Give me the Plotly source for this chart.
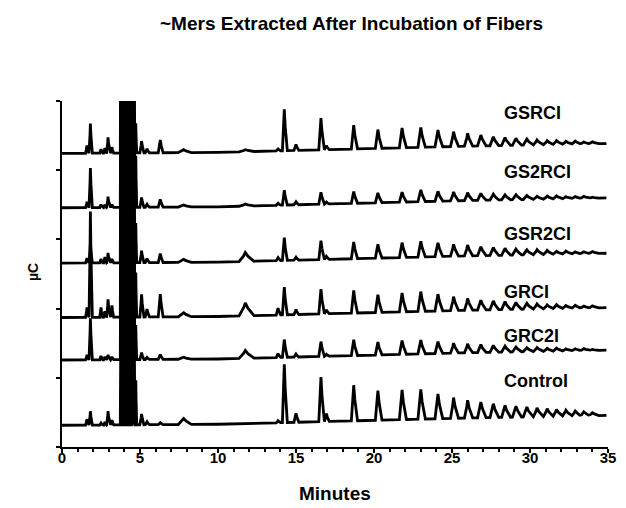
import numpy as np
import plotly.graph_objects as go

# ---------------- data ----------------
TRACE_NAMES = ["GSRCI", "GS2RCI", "GSR2CI", "GRCI", "GRC2I", "Control"]
# baseline level of each stacked trace (µC, arbitrary units)
OFFSETS = [297, 242, 186, 131, 88, 22]
# slow baseline drift common to all traces
DRIFT_T = [0, 10, 15, 25, 35]
DRIFT_V = [0, 1, 3, 7, 10]

# early / minor peaks: retention time (min) and peak half-width (min)
EARLY_T = [1.6, 1.82, 2.5, 2.75, 2.95, 3.2, 5.1, 5.45, 6.3, 7.8, 11.75, 13.85, 15.0, 16.95]
EARLY_W = [0.09, 0.09, 0.08, 0.08, 0.09, 0.08, 0.11, 0.11, 0.13, 0.35, 0.4, 0.12, 0.13, 0.13]
EARLY_H = {
    "GSRCI":   [8, 30, 4, 5, 16, 6, 12, 4, 13, 3, 2, 2, 6, 4],
    "GS2RCI":  [6, 40, 3, 3, 11, 3, 10, 3, 8, 2, 2, 2, 3, 2],
    "GSR2CI":  [5, 20, 4, 6, 10, 4, 12, 4, 9, 3, 9, 3, 3, 3],
    "GRCI":    [10, 107, 10, 6, 18, 12, 23, 8, 23, 4, 13, 7, 5, 4],
    "GRC2I":   [5, 42, 4, 3, 5, 3, 7, 2, 5, 2, 8, 4, 3, 2],
    "Control": [6, 14, 2, 3, 14, 5, 11, 3, 2, 6, 0, 2, 9, 8],
}

# solvent-front cluster of very tall peaks
CLUSTER_T = [3.78, 3.9, 4.02, 4.14, 4.26, 4.38, 4.5, 4.61, 4.73]
CLUSTER_H = {
    "GSRCI":   [150, 200, 260, 240, 280, 230, 200, 150, 30],
    "GS2RCI":  [180, 250, 300, 260, 320, 280, 230, 170, 52],
    "GSR2CI":  [170, 240, 290, 270, 310, 290, 240, 160, 40],
    "GRCI":    [160, 260, 300, 280, 330, 300, 250, 180, 45],
    "GRC2I":   [150, 230, 280, 300, 310, 290, 240, 170, 35],
    "Control": [120, 200, 260, 310, 280, 300, 250, 200, 45],
}

# oligomer (~mer) peak series
OLIGO_T = [14.25, 16.6, 18.7, 20.25, 21.8, 23.0, 24.1, 25.1, 26.0, 26.85, 27.65,
           28.4, 29.1, 29.8, 30.45, 31.1, 31.7, 32.3, 32.9, 33.45, 34.0]
OLIGO_H = {
    "GSRCI":   [42, 32, 24, 19, 20, 20, 17, 15, 13, 11, 9, 8, 7, 6, 5, 4, 4, 3, 3, 2, 2],
    "GS2RCI":  [15, 12, 12, 10, 10, 12, 10, 9, 8, 7, 6, 5, 5, 4, 3, 3, 3, 2, 2, 2, 1],
    "GSR2CI":  [23, 19, 17, 14, 15, 16, 14, 12, 11, 9, 8, 7, 6, 5, 5, 4, 3, 3, 2, 2, 2],
    "GRCI":    [28, 25, 23, 18, 19, 20, 17, 14, 12, 10, 9, 8, 7, 6, 5, 4, 4, 3, 3, 2, 2],
    "GRC2I":   [18, 15, 16, 13, 14, 14, 12, 10, 9, 8, 7, 6, 5, 4, 4, 3, 3, 2, 2, 2, 1],
    "Control": [59, 45, 36, 30, 30, 30, 25, 21, 18, 16, 14, 12, 11, 10, 9, 8, 7, 6, 5, 4, 3],
}

X_TICKS = [0, 5, 10, 15, 20, 25, 30, 35]
T_END = 34.9

# ---------------- drawing helpers ----------------
def peak_list(name):
    peaks = []
    for t, w, h in zip(EARLY_T, EARLY_W, EARLY_H[name]):
        if h > 0:
            peaks.append((t, h, w, w * 1.4))
    for t, h in zip(CLUSTER_T, CLUSTER_H[name]):
        peaks.append((t, h, 0.045, 0.06))
    for t, h in zip(OLIGO_T, OLIGO_H[name]):
        wl = 0.12 + 0.007 * (t - 14)
        peaks.append((t, h, wl, wl * 1.6))
    return peaks


def build_trace(name, offset):
    peaks = peak_list(name)
    ts = {0.0, T_END}
    ts.update(DRIFT_T)
    for t, h, wl, wr in peaks:
        ts.update([t - wl, t - 0.25 * wl, t, t + 0.3 * wr, t + wr])
    ts = np.array(sorted(v for v in ts if 0 <= v <= T_END))
    y = offset + np.interp(ts, DRIFT_T, DRIFT_V)
    for t, h, wl, wr in peaks:
        left = np.clip((ts - (t - wl)) / wl, 0, 1)
        right = np.clip(((t + wr) - ts) / wr, 0, 1)
        y = y + h * np.minimum(left, right) ** 1.5
    return ts, y


fig = go.Figure()
for name, off in zip(TRACE_NAMES, OFFSETS):
    xs, ys = build_trace(name, off)
    fig.add_trace(go.Scatter(x=xs, y=ys, mode="lines", name=name,
                             line=dict(color="black", width=2.8),
                             showlegend=False, hoverinfo="skip"))

LABEL_X = 28.23
LABEL_Y = [338, 278.5, 215.5, 157, 112, 67]
for name, ly in zip(TRACE_NAMES, LABEL_Y):
    fig.add_annotation(x=LABEL_X, y=ly, xref="x", yref="y", text=f"<b>{name}</b>",
                       showarrow=False, xanchor="left", yanchor="middle",
                       font=dict(family="Liberation Sans, Arial", size=18, color="black"))

fig.add_annotation(x=0.53, y=1.225, xref="paper", yref="paper",
                   text="<b>~Mers Extracted After Incubation of Fibers</b>",
                   showarrow=False, xanchor="center", yanchor="middle",
                   font=dict(family="Liberation Sans, Arial", size=19, color="black"))
fig.add_annotation(x=0.5, y=-0.133, xref="paper", yref="paper", text="<b>Minutes</b>",
                   showarrow=False, xanchor="center", yanchor="middle",
                   font=dict(family="Liberation Sans, Arial", size=19, color="black"))
fig.add_annotation(x=-0.053, y=0.506, xref="paper", yref="paper", text="<b>µC</b>",
                   showarrow=False, xanchor="center", yanchor="middle", textangle=-90,
                   font=dict(family="Liberation Sans, Arial", size=14, color="black"))

# the page body adds an 8 px offset, so the figure is 8 px smaller on each axis
fig.update_layout(
    width=618, height=500,
    margin=dict(l=54, r=18, t=93, b=61, autoexpand=False),
    paper_bgcolor="white", plot_bgcolor="white",
    xaxis=dict(range=[0, 35], tickvals=X_TICKS, ticktext=[f"<b>{v}</b>" for v in X_TICKS],
               automargin=False, ticklabelstandoff=-8,
               showline=True, linecolor="black", linewidth=2,
               ticks="outside", ticklen=4, tickwidth=2, tickcolor="black",
               minor=dict(dtick=1, ticks="outside", ticklen=3, tickwidth=1.5, tickcolor="black"),
               showgrid=False, zeroline=False,
               tickfont=dict(family="Liberation Sans, Arial", size=15, color="black")),
    yaxis=dict(range=[0, 350], dtick=70, showticklabels=False, automargin=False,
               showline=True, linecolor="black", linewidth=2,
               ticks="outside", ticklen=4, tickwidth=2, tickcolor="black",
               showgrid=False, zeroline=False),
)

fig.write_html("out.html")
